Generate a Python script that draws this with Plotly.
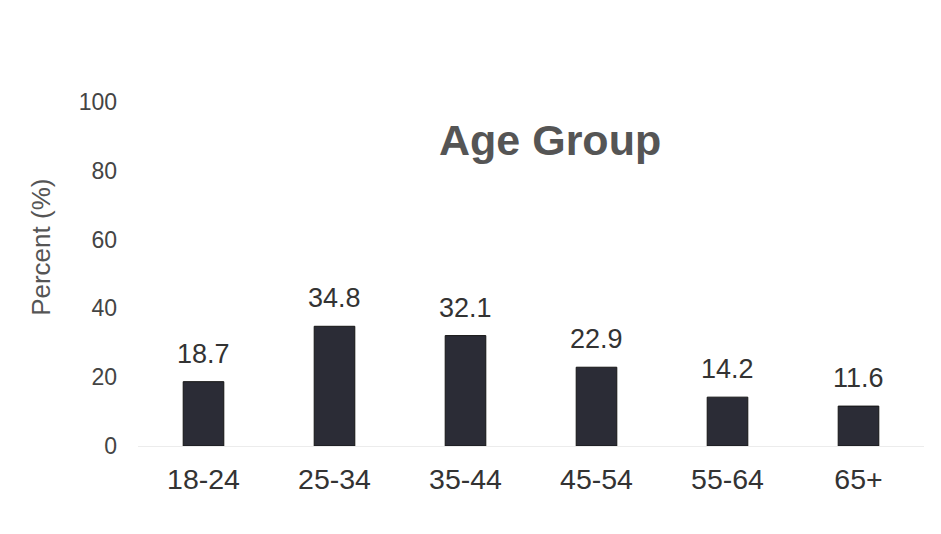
import plotly.graph_objects as go

categories = ["18-24", "25-34", "35-44", "45-54", "55-64", "65+"]
values = [18.7, 34.8, 32.1, 22.9, 14.2, 11.6]
y_ticks = [0, 20, 40, 60, 80, 100]

fig = go.Figure(go.Bar(
    x=categories, y=values,
    marker=dict(color="#2b2c36", line=dict(color="#151515", width=1)),
))

annotations = [dict(
    x=c, y=v, xref="x", yref="y", text=f"{v:.1f}", showarrow=False,
    yanchor="bottom", yshift=11,
    font=dict(size=27, color="#333333"),
) for c, v in zip(categories, values)]
annotations.append(dict(
    text="<b>Age Group</b>", x=0.524, xref="paper", y=0.89, yref="paper",
    xanchor="center", yanchor="middle",
    showarrow=False, font=dict(size=43, color="#555555"),
))
annotations.append(dict(
    text="Percent (%)", x=0, xref="paper", xshift=-97, y=0.576, yref="paper",
    xanchor="center", yanchor="middle", textangle=-90,
    showarrow=False, font=dict(size=26, color="#555555"),
))

fig.update_layout(
    width=941, height=534,
    margin=dict(l=130, r=25, t=94, b=96),
    paper_bgcolor="white", plot_bgcolor="white",
    bargap=0.69,
    showlegend=False,
    font=dict(family="Liberation Sans, Arial", color="#444444"),
    annotations=annotations,
)

fig.update_yaxes(
    range=[0, 100], tickvals=y_ticks, showgrid=False, zeroline=False,
    showline=False, ticklabelstandoff=20,
    tickfont=dict(size=23, color="#444444"),
)
fig.update_xaxes(
    showgrid=False, showline=True, linecolor="#ececec", linewidth=1,
    ticklabelstandoff=8, tickfont=dict(size=28.5, color="#333333"),
)

fig.write_html("out.html")
